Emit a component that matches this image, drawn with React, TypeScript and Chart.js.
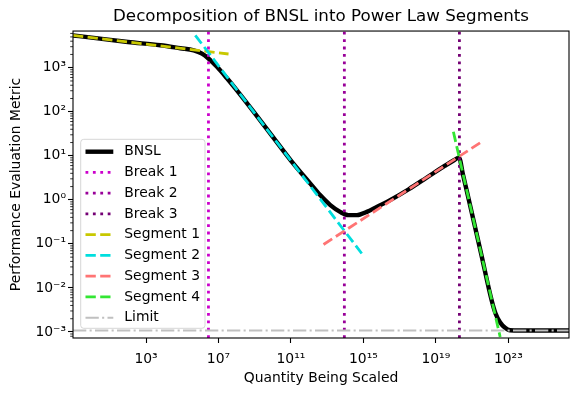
import React, { useEffect, useRef } from 'react';
import { Chart, registerables } from 'chart.js';

Chart.register(...registerables);

// ---- data ----
const bnslX = [0.0933, 1, 100, 6.2e3, 7.8e4, 4.3e5, 1.23e6, 2.8e6, 8.3e6, 2.95e7, 8.5e7, 1e9, 1e10, 1e11, 1.15e12, 4.1e12, 1.5e13, 5.2e13, 1.5e14, 4.4e14, 1.55e15, 5.5e15, 3.0e16, 3.2e17, 3.2e18, 3.2e19, 1e20, 1.9e20, 3.16e20, 1e21, 3.16e21, 1.2e22, 1.95e22, 3.47e22, 6.6e22, 1.23e23, 4.4e23, 2.24e26];
const bnslY = [5400, 4810, 3840, 3230, 2770, 2485, 2090, 1620, 1050, 575, 339, 93, 26.9, 7.8, 2.36, 1.28, 0.76, 0.533, 0.449, 0.449, 0.533, 0.693, 0.984, 1.74, 3.22, 5.96, 7.94, 9.1, 3.7, 0.48, 0.0598, 5.25e-3, 2.66e-3, 1.66e-3, 1.245e-3, 1.094e-3, 1.08e-3, 1.08e-3];

const seg1X = [0.0933, 3.6e7];
const seg1Y = [5400, 2046];
const seg2X = [5.25e5, 8.1e14];
const seg2Y = [5445, 0.0605];
const seg3X = [6.3e12, 2.75e21];
const seg3Y = [0.0968, 19.7];
const seg4X = [9.3e19, 3.55e22];
const seg4Y = [35.1, 7.7e-4];

const breakX = [2.8e6, 8.9e13, 2.0e20];
const limitY = 1.08e-3;

const xMin = 0.0933;
const xMax = 2.24e26;
const yMin = 7.3e-4;
const yMax = 6.8e3;

const xTicks = [1e3, 1e7, 1e11, 1e15, 1e19, 1e23];
const yTicks = [1e-3, 1e-2, 1e-1, 1, 10, 100, 1000];

const SUP: Record<string, string> = {
  '0': '⁰', '1': '¹', '2': '²', '3': '³', '4': '⁴', '5': '⁵', '6': '⁶', '7': '⁷', '8': '⁸', '9': '⁹', '-': '⁻',
};
const fmt = (v: number) => {
  const e = Math.round(Math.log10(v));
  return '10' + String(e).split('').map((c) => SUP[c]).join('');
};

const pts = (xs: number[], ys: number[]) => xs.map((x, i) => ({ x, y: ys[i] }));

const FONT = 'DejaVu Sans';

const decorPlugin = {
  id: 'decor',
  afterDraw(chart: any) {
    const { ctx, chartArea: a, scales } = chart;
    const ys = scales.y;
    ctx.save();
    // minor y ticks
    ctx.strokeStyle = '#000';
    ctx.lineWidth = 0.8;
    for (let k = -4; k <= 4; k++) {
      for (let m = 2; m <= 9; m++) {
        const v = m * Math.pow(10, k);
        if (v < yMin || v > yMax) continue;
        const py = ys.getPixelForValue(v);
        ctx.beginPath();
        ctx.moveTo(a.left - 2.8, py);
        ctx.lineTo(a.left, py);
        ctx.stroke();
      }
    }
    // frame
    ctx.lineWidth = 1.1;
    ctx.strokeRect(a.left, a.top, a.right - a.left, a.bottom - a.top);

    // legend
    const lx = a.left + 7.7;
    const lw = 124.3;
    const lh = 189;
    const ly = a.bottom - 9.7 - lh;
    const r = 3;
    ctx.beginPath();
    ctx.moveTo(lx + r, ly);
    ctx.lineTo(lx + lw - r, ly);
    ctx.quadraticCurveTo(lx + lw, ly, lx + lw, ly + r);
    ctx.lineTo(lx + lw, ly + lh - r);
    ctx.quadraticCurveTo(lx + lw, ly + lh, lx + lw - r, ly + lh);
    ctx.lineTo(lx + r, ly + lh);
    ctx.quadraticCurveTo(lx, ly + lh, lx, ly + lh - r);
    ctx.lineTo(lx, ly + r);
    ctx.quadraticCurveTo(lx, ly, lx + r, ly);
    ctx.closePath();
    ctx.fillStyle = 'rgba(255,255,255,0.8)';
    ctx.fill();
    ctx.strokeStyle = 'rgba(204,204,204,0.8)';
    ctx.lineWidth = 1;
    ctx.stroke();

    const dsets = chart.data.datasets;
    ctx.font = `13.9px "${FONT}"`;
    ctx.textBaseline = 'middle';
    ctx.textAlign = 'left';
    dsets.forEach((ds: any, i: number) => {
      const cy = ly + 12.4 + i * 20.75;
      ctx.save();
      ctx.strokeStyle = ds.borderColor;
      ctx.lineWidth = ds.borderWidth;
      ctx.setLineDash(ds.borderDash || []);
      ctx.beginPath();
      ctx.moveTo(lx + 4.8, cy);
      ctx.lineTo(lx + 32.6, cy);
      ctx.stroke();
      ctx.restore();
      ctx.fillStyle = '#000';
      ctx.fillText(ds.label, lx + 43.6, cy);
    });
    ctx.restore();
  },
};

export default function App() {
  const ref = useRef<HTMLCanvasElement>(null);
  useEffect(() => {
    if (!ref.current) return;
    Chart.defaults.font.family = FONT;
    Chart.defaults.color = '#000';
    const dotted = [2.8, 4.6];
    const dashed = [10.3, 4.4];
    const chart = new Chart(ref.current, {
      type: 'line',
      data: {
        datasets: [
          { label: 'BNSL', data: pts(bnslX, bnslY), borderColor: '#000000', borderWidth: 4.4, pointRadius: 0, cubicInterpolationMode: 'monotone', order: 9 },
          { label: 'Break 1', data: [{ x: breakX[0], y: yMin }, { x: breakX[0], y: yMax }], borderColor: '#cc00cc', borderWidth: 2.8, borderDash: dotted, pointRadius: 0, order: 8 },
          { label: 'Break 2', data: [{ x: breakX[1], y: yMin }, { x: breakX[1], y: yMax }], borderColor: '#990099', borderWidth: 2.8, borderDash: dotted, pointRadius: 0, order: 7 },
          { label: 'Break 3', data: [{ x: breakX[2], y: yMin }, { x: breakX[2], y: yMax }], borderColor: '#740074', borderWidth: 2.8, borderDash: dotted, pointRadius: 0, order: 6 },
          { label: 'Segment 1', data: pts(seg1X, seg1Y), borderColor: '#c8c800', borderWidth: 2.8, borderDash: dashed, pointRadius: 0, order: 5 },
          { label: 'Segment 2', data: pts(seg2X, seg2Y), borderColor: '#00dede', borderWidth: 2.8, borderDash: dashed, pointRadius: 0, order: 4 },
          { label: 'Segment 3', data: pts(seg3X, seg3Y), borderColor: '#ff7474', borderWidth: 2.8, borderDash: dashed, pointRadius: 0, order: 3 },
          { label: 'Segment 4', data: pts(seg4X, seg4Y), borderColor: '#33e633', borderWidth: 2.8, borderDash: dashed, pointRadius: 0, order: 2 },
          { label: 'Limit', data: [{ x: xMin, y: limitY }, { x: xMax, y: limitY }], borderColor: '#c0c0c0', borderWidth: 2.1, borderDash: [13.3, 3.3, 2.1, 3.3], pointRadius: 0, order: 1 },
        ] as any,
      },
      options: {
        responsive: false,
        animation: false,
        devicePixelRatio: 1,
        layout: { padding: { left: 0, right: 9, top: 0, bottom: 0 } },
        plugins: {
          legend: { display: false },
          tooltip: { enabled: false },
          title: {
            display: true,
            text: 'Decomposition of BNSL into Power Law Segments',
            fullSize: false,
            font: { size: 16.7, weight: 'normal', family: FONT },
            color: '#000',
            padding: { top: 6.7, bottom: 4.3 },
          },
        },
        scales: {
          x: {
            type: 'logarithmic',
            min: xMin,
            max: xMax,
            afterBuildTicks: (s: any) => { s.ticks = xTicks.map((v) => ({ value: v })); },
            afterFit: (s: any) => { s.height = 58; },
            ticks: { callback: (v: any) => fmt(Number(v)), autoSkip: false, maxRotation: 0, padding: 8, font: { size: 13.9 }, color: '#000' },
            grid: { display: true, drawOnChartArea: false, drawTicks: true, tickLength: 5, tickWidth: 1.1, tickColor: '#000' },
            border: { display: false },
            title: { display: true, text: 'Quantity Being Scaled', font: { size: 13.9 }, color: '#000', padding: { top: 0, bottom: 9.5 } },
          },
          y: {
            type: 'logarithmic',
            min: yMin,
            max: yMax,
            afterBuildTicks: (s: any) => { s.ticks = yTicks.map((v) => ({ value: v })); },
            afterFit: (s: any) => { s.width = 73; },
            ticks: { callback: (v: any) => fmt(Number(v)), autoSkip: false, padding: 2, font: { size: 13.9 }, color: '#000' },
            grid: { display: true, drawOnChartArea: false, drawTicks: true, tickLength: 5, tickWidth: 1.1, tickColor: '#000' },
            border: { display: false },
            title: { display: true, text: 'Performance Evaluation Metric', font: { size: 13.9 }, color: '#000', padding: { top: 8, bottom: 0 } },
          },
        },
      } as any,
      plugins: [decorPlugin],
    });
    return () => chart.destroy();
  }, []);
  return (
    <div style={{ position: 'fixed', left: 0, top: 0, width: 578, height: 396, background: '#fff' }}>
      <canvas ref={ref} width={578} height={396} style={{ display: 'block' }} />
    </div>
  );
}
